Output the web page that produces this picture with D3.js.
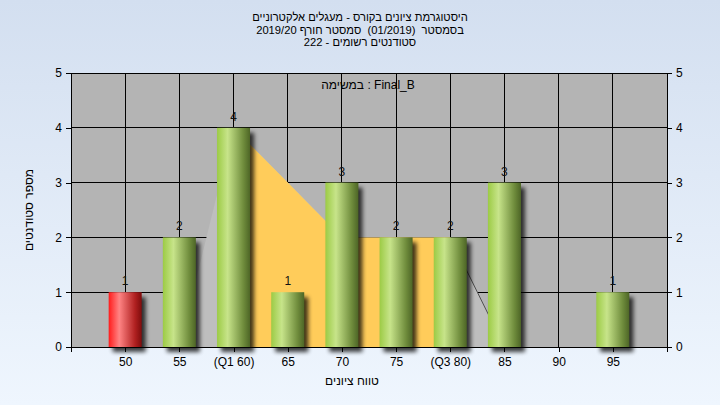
<!DOCTYPE html>
<html><head><meta charset="utf-8">
<script src="https://cdn.jsdelivr.net/npm/d3@7"></script>
<style>body{margin:0;padding:0;overflow:hidden}svg{display:block;font-family:"Liberation Sans",Arial,sans-serif}.pre{white-space:pre}</style>
</head><body>
<svg id="c" width="720" height="405"></svg>
<script>
const categories = [50, 55, 60, 65, 70, 75, 80, 85, 90, 95];
const tickLabels = ["50", "55", "(Q1 60)", "65", "70", "75", "(Q3 80)", "85", "90", "95"];
const counts = [1, 2, 4, 1, 3, 2, 2, 3, 0, 1];
const distX = [55, 60, 65, 70, 75, 80, 85];
const distY = [0, 4, 3, 2, 2, 2, 0];
const iqrX = [60, 65, 70, 75, 80];
const iqrY = [4, 3, 2, 2, 2];
const tailX = [80, 85];
const tailY = [2, 0];
const yTicks = [0, 1, 2, 3, 4, 5];
const titleLines = ["היסטוגרמת ציונים בקורס - מעגלים אלקטרוניים", "בסמסטר  (01/2019)  סמסטר חורף 2019/20", "סטודנטים רשומים - 222"];
const legendText = "במשימה : Final_B";
const xTitle = "טווח ציונים";
const yTitle = "מספר סטודנטים";
const failBelow = 55;

const svg = d3.select("#c");
const W = 720, H = 405;
const L = 71, R = 667, T = 73, B = 347;
const x = d3.scaleLinear().domain([45, 100]).range([L, R]);
const y = d3.scaleLinear().domain([0, 5]).range([B, T]);
const defs = svg.append("defs");

const bg = defs.append("linearGradient").attr("id", "bg").attr("x1", 0).attr("y1", 0).attr("x2", 0).attr("y2", 1);
bg.append("stop").attr("offset", "0%").attr("stop-color", "#d3dff0");
bg.append("stop").attr("offset", "100%").attr("stop-color", "#eff6fe");

function barGrad(id, c0, c1, c2, c3) {
  const g = defs.append("linearGradient").attr("id", id).attr("x1", 0).attr("y1", 0).attr("x2", 1).attr("y2", 0);
  g.append("stop").attr("offset", "0%").attr("stop-color", c0);
  g.append("stop").attr("offset", "32%").attr("stop-color", c1);
  g.append("stop").attr("offset", "80%").attr("stop-color", c2);
  g.append("stop").attr("offset", "100%").attr("stop-color", c3);
}
barGrad("gGreen", "#9ccb45", "#c7e48a", "#6f8c3c", "#4d6526");
barGrad("gRed", "#ff1c1c", "#ff8484", "#b02020", "#7e0c0c");

const blur = defs.append("filter").attr("id", "sh").attr("x", "-50%").attr("y", "-20%").attr("width", "200%").attr("height", "140%");
blur.append("feGaussianBlur").attr("stdDeviation", 2.2);

svg.append("rect").attr("width", W).attr("height", H).attr("fill", "url(#bg)");
svg.append("rect").attr("x", L).attr("y", T).attr("width", R - L).attr("height", B - T).attr("fill", "#b4b4b4");

// gridlines
const grid = svg.append("g").attr("stroke", "#000").attr("stroke-width", 1).attr("shape-rendering", "crispEdges");
yTicks.forEach(v => grid.append("line").attr("x1", L).attr("x2", R).attr("y1", y(v)).attr("y2", y(v)));
categories.forEach(v => grid.append("line").attr("x1", x(v)).attr("x2", x(v)).attr("y1", T).attr("y2", B));

// areas
const area = d3.area().x(d => x(d[0])).y0(y(0)).y1(d => y(d[1]));
svg.append("path").datum(distX.map((v, i) => [v, distY[i]])).attr("d", area).attr("fill", "#bebebe");
svg.append("path").datum(iqrX.map((v, i) => [v, iqrY[i]])).attr("d", area).attr("fill", "#ffcc5a");
svg.append("path").datum(tailX.map((v, i) => [v, tailY[i]])).attr("d", d3.line().x(d => x(d[0])).y(d => y(d[1])))
  .attr("fill", "none").attr("stroke", "#505050").attr("stroke-width", 1);

// bars
const bw = 33;
const bars = svg.append("g");
categories.forEach((c, i) => {
  if (counts[i] <= 0) return;
  const x0 = x(c) - bw / 2, y0 = y(counts[i]);
  bars.append("rect").attr("x", x0 + 4).attr("y", y0 + 5).attr("width", bw).attr("height", y(0) - y0)
    .attr("fill", "#000").attr("opacity", 0.75).attr("filter", "url(#sh)");
});
categories.forEach((c, i) => {
  if (counts[i] <= 0) return;
  const x0 = x(c) - bw / 2, y0 = y(counts[i]);
  bars.append("rect").attr("x", x0).attr("y", y0).attr("width", bw).attr("height", y(0) - y0)
    .attr("fill", c < failBelow ? "url(#gRed)" : "url(#gGreen)");
  svg.append("text").attr("x", x(c)).attr("y", y0 - 7).attr("text-anchor", "middle")
    .attr("font-size", 12).attr("fill", "#111").text(counts[i]);
});

// axes
const axL = svg.append("g").attr("transform", `translate(${L},0)`).call(d3.axisLeft(y).tickValues(yTicks).tickSize(5).tickPadding(4).tickFormat(d3.format("d")));
const axR = svg.append("g").attr("transform", `translate(${R},0)`).call(d3.axisRight(y).tickValues(yTicks).tickSize(5).tickPadding(4).tickFormat(d3.format("d")));
const axB = svg.append("g").attr("transform", `translate(0,${B})`).call(d3.axisBottom(x).tickValues(categories.concat([100])).tickSize(5).tickPadding(5)
  .tickFormat((d) => { const i = categories.indexOf(d); return i >= 0 ? tickLabels[i] : ""; }));
[axL, axR, axB].forEach(a => {
  a.selectAll("line").attr("stroke", "#000").attr("shape-rendering", "crispEdges");
  a.selectAll("text").attr("font-size", 12).attr("fill", "#000").attr("font-family", "'Liberation Sans',Arial,sans-serif");
  a.select(".domain").remove();
});
svg.append("line").attr("x1", L).attr("x2", L).attr("y1", T).attr("y2", B + 5).attr("stroke", "#000").attr("shape-rendering", "crispEdges");
svg.append("line").attr("x1", R).attr("x2", R).attr("y1", T).attr("y2", B + 5).attr("stroke", "#000").attr("shape-rendering", "crispEdges");
svg.append("line").attr("x1", L).attr("x2", R + 3).attr("y1", B).attr("y2", B).attr("stroke", "#000").attr("shape-rendering", "crispEdges");

// titles
titleLines.forEach((t, i) => {
  svg.append("text").attr("class", "pre").attr("x", 360).attr("y", 21 + i * 12.5).attr("text-anchor", "middle").attr("font-size", 11.2).attr("fill", "#000").text(t);
});
svg.append("text").attr("x", 368).attr("y", 89).attr("text-anchor", "middle").attr("font-size", 12).attr("fill", "#000").text(legendText);
svg.append("text").attr("x", 352).attr("y", 385).attr("text-anchor", "middle").attr("font-size", 12).attr("fill", "#000").text(xTitle);
svg.append("text").attr("transform", "translate(33,210) rotate(-90)").attr("text-anchor", "middle").attr("font-size", 12).attr("fill", "#000").text(yTitle);
</script>
</body></html>
